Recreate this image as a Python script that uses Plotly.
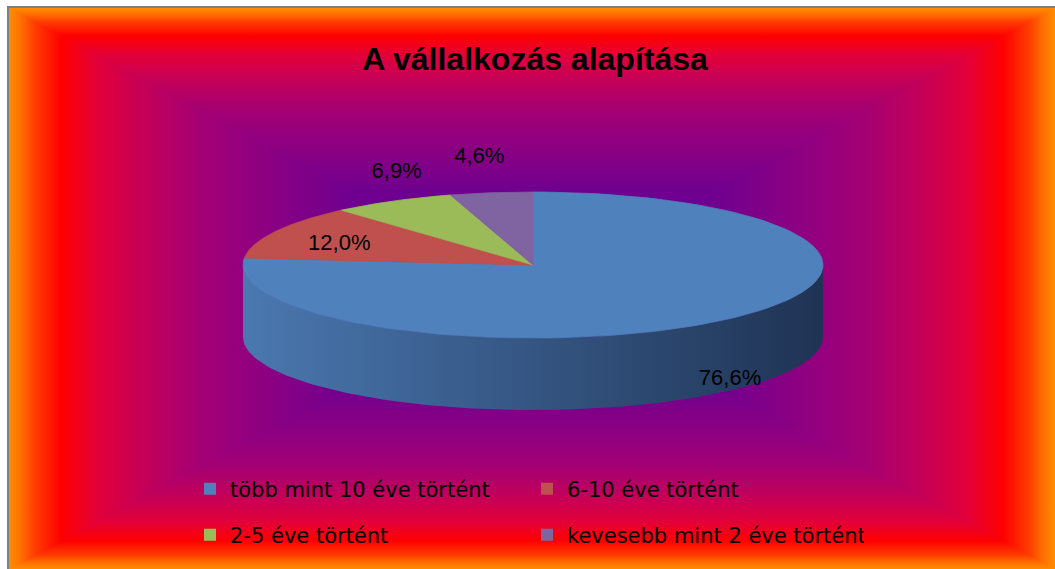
import math
import base64
import plotly.graph_objects as go

# ---------------- data ----------------
categories = ["több mint 10 éve történt", "6-10 éve történt",
              "2-5 éve történt", "kevesebb mint 2 éve történt"]
values = [76.6, 12.0, 6.9, 4.6]
colors = ["#4F81BD", "#C0504D", "#9BBB59", "#8064A2"]
side_colors = [("#4A78B0", "#1F3354"), ("#B04A47", "#6A2A28"),
               ("#8FAE52", "#56692F"), ("#765C96", "#45365A")]
title_text = "A vállalkozás alapítása"

# ---------------- style / geometry (pixels) ----------------
W, H = 1055, 569
CX, CY = 533, 265          # centre of the top face
RX, RY = 290, 73           # ellipse radii of the top face
DEPTH = 72                 # thickness of the 3D pie
START = 90                 # first slice starts at 12 o'clock, clockwise
label_r = [1.0, 0.75, 1.0, 1.0]
label_dx = [2, 0, 4, -12]
label_dy = [60, 4, -29, -35]

total = sum(values)
spans = []
a = START
for v in values:
    sweep = 360.0 * v / total
    spans.append((a, a - sweep))
    a -= sweep


def ell(theta_deg, r=1.0, dy=0.0):
    t = math.radians(theta_deg)
    return CX + RX * r * math.cos(t), CY - RY * r * math.sin(t) + dy


def arc(a0, a1, n=120, dy=0.0):
    return [ell(a0 + (a1 - a0) * k / n, 1.0, dy) for k in range(n + 1)]


fig = go.Figure()

# ---- side walls (front half of the cylinder) ----
for i, (a0, a1) in enumerate(spans):
    hi, lo = a0, a1
    for f0, f1 in [(-180, 0), (180, 360)]:
        s, e = max(lo, f0), min(hi, f1)
        if e <= s:
            continue
        top = arc(s, e)
        bot = arc(e, s, dy=DEPTH)
        pts = top + bot + [top[0]]
        fig.add_trace(go.Scatter(
            x=[p[0] for p in pts], y=[p[1] for p in pts],
            mode="lines", line=dict(width=0), fill="toself",
            fillcolor=side_colors[i][1],
            fillgradient=dict(type="horizontal",
                              colorscale=[[0, side_colors[i][0]], [1, side_colors[i][1]]]),
            hoverinfo="skip", showlegend=False))

# ---- top faces ----
for i, (a0, a1) in enumerate(spans):
    pts = [(CX, CY)] + arc(a0, a1) + [(CX, CY)]
    fig.add_trace(go.Scatter(
        x=[p[0] for p in pts], y=[p[1] for p in pts],
        mode="lines", line=dict(width=0.8, color=colors[i]), fill="toself",
        fillcolor=colors[i], hoverinfo="skip", showlegend=False))

# ---- data labels ----
lx, ly, lt = [], [], []
for i, (a0, a1) in enumerate(spans):
    mid = (a0 + a1) / 2
    x, y = ell(mid, label_r[i], label_dy[i])
    lx.append(x + label_dx[i])
    ly.append(y)
    lt.append(f"{values[i]:.1f}".replace(".", ",") + "%")
fig.add_trace(go.Scatter(
    x=lx, y=ly, text=lt, mode="text",
    textfont=dict(family="Liberation Sans", size=22, color="#000000"),
    hoverinfo="skip", showlegend=False))

# ---- legend entries ----
for i, cat in enumerate(categories):
    fig.add_trace(go.Scatter(
        x=[None], y=[None], mode="markers", name=cat,
        marker=dict(symbol="square", size=12, color=colors[i]),
        legend="legend" if i < 2 else "legend2"))

# ---- background: rectangular gradient from centre (SVG) ----
X0, Y0, X1, Y1 = 9, 8, W, H
GX, GY = (X0 + X1) / 2, (Y0 + Y1) / 2
stops = [(0.0, "#FF8C00"), (0.02, "#FF7400"), (0.05, "#FF3C00"), (0.10, "#FF0000"),
         (0.17, "#E2003A"), (0.27, "#C0005C"), (0.365, "#A40074"), (0.45, "#94007E"),
         (0.65, "#70008F"), (1.0, "#5000A4")]
stop_xml = "".join(f'<stop offset="{o}" stop-color="{c}"/>' for o, c in stops)


def grad(gid, x1, y1, x2, y2):
    return (f'<linearGradient id="{gid}" gradientUnits="userSpaceOnUse" '
            f'x1="{x1}" y1="{y1}" x2="{x2}" y2="{y2}">{stop_xml}</linearGradient>')


defs = (grad("gT", GX, Y0, GX, GY) + grad("gB", GX, Y1, GX, GY) +
        grad("gL", X0, GY, GX, GY) + grad("gR", X1, GY, GX, GY))
polys = (
    f'<polygon points="{X0},{Y0} {X1},{Y0} {GX},{GY}" fill="url(#gT)"/>'
    f'<polygon points="{X0},{Y1} {X1},{Y1} {GX},{GY}" fill="url(#gB)"/>'
    f'<polygon points="{X0},{Y0} {X0},{Y1} {GX},{GY}" fill="url(#gL)"/>'
    f'<polygon points="{X1},{Y0} {X1},{Y1} {GX},{GY}" fill="url(#gR)"/>'
)
svg = (f'<svg xmlns="http://www.w3.org/2000/svg" width="{W}" height="{H}" '
       f'viewBox="0 0 {W} {H}" preserveAspectRatio="none">'
       f'<defs>{defs}</defs>'
       f'<rect x="0" y="0" width="{W}" height="{H}" fill="#FFFFFF"/>'
       f'<rect x="7" y="6" width="{W - 7}" height="{H - 6}" fill="#808080"/>'
       f'<rect x="{X0}" y="{Y0}" width="{X1 - X0}" height="{Y1 - Y0}" fill="#A20074"/>'
       f'<g shape-rendering="crispEdges">{polys}</g></svg>')
src = "data:image/svg+xml;base64," + base64.b64encode(svg.encode("utf-8")).decode("ascii")

legend_common = dict(orientation="h", xanchor="left", yanchor="middle",
                     bgcolor="rgba(0,0,0,0)", borderwidth=0,
                     entrywidth=292, entrywidthmode="pixels",
                     font=dict(family="DejaVu Sans", size=21, color="#000000"),
                     traceorder="normal")

fig.update_layout(
    width=W, height=H, autosize=False,
    margin=dict(l=0, r=0, t=0, b=0),
    paper_bgcolor="#FFFFFF", plot_bgcolor="rgba(0,0,0,0)",
    title=dict(text=title_text, x=535 / W, y=1 - 59 / H, xanchor="center", yanchor="middle",
               xref="paper", yref="paper",
               font=dict(family="Liberation Sans", size=32, color="#000000", weight="bold")),
    xaxis=dict(range=[0, W], visible=False, fixedrange=True),
    yaxis=dict(range=[H, 0], visible=False, fixedrange=True),
    images=[dict(source=src, xref="paper", yref="paper", x=0, y=1, sizex=1, sizey=1,
                 xanchor="left", yanchor="top", sizing="stretch", layer="below")],
    legend=dict(x=190 / W, y=1 - 489 / H, **legend_common),
    legend2=dict(x=190 / W, y=1 - 535 / H, **legend_common),
    showlegend=True,
)

fig.write_html("out.html", config={"displayModeBar": False},
               post_script="document.body.style.margin='0';document.body.style.overflow='hidden';")
